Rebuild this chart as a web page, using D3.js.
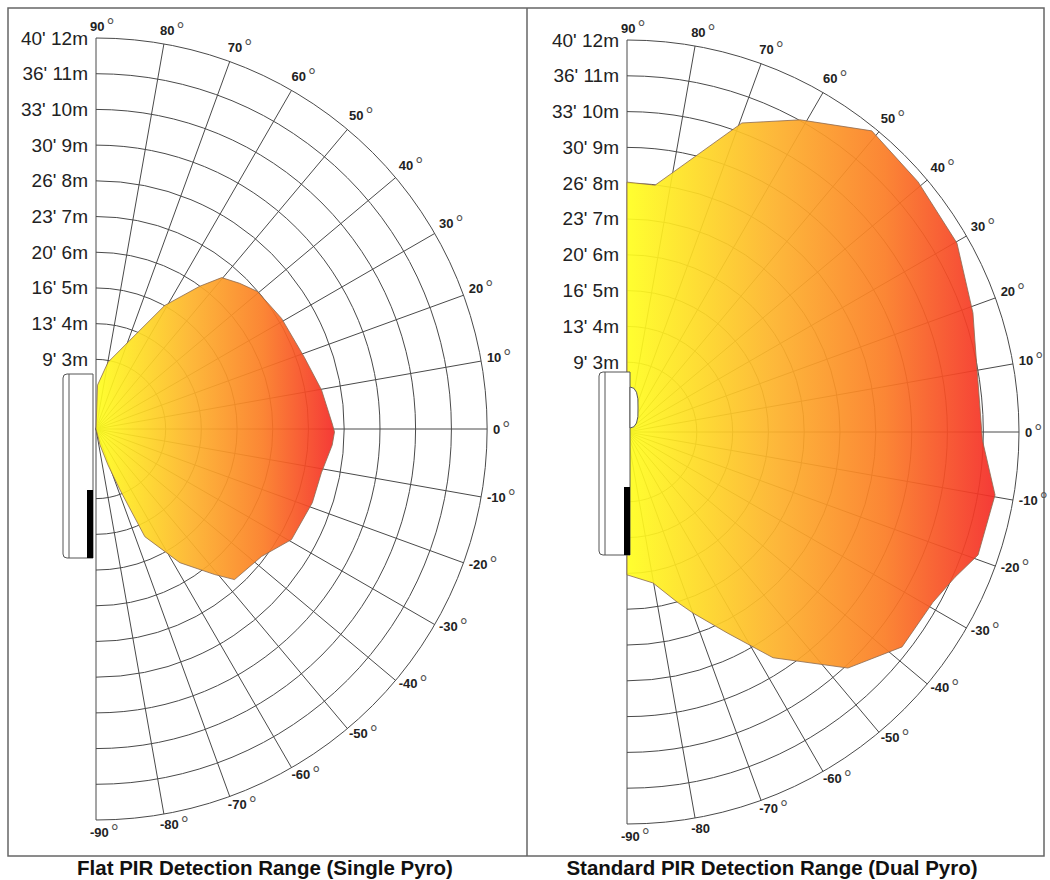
<!DOCTYPE html>
<html>
<head>
<meta charset="utf-8">
<script src="https://cdn.jsdelivr.net/npm/d3@7"></script>
<style>
  body { margin: 0; background: #fff; }
  svg { font-family: "Liberation Sans", Arial, Helvetica, sans-serif; }
</style>
</head>
<body>
<div id="chart"></div>
<script>
// ring distances (m) and their feet labels
const rings = [3, 4, 5, 6, 7, 8, 9, 10, 11, 12];
const ringFeet = ["9'", "13'", "16'", "20'", "23'", "26'", "30'", "33'", "36'", "40'"];
const spokeAngles = d3.range(-90, 91, 10);

// Flat PIR (single pyro) outline: angle in degrees, range in metres
const flatAngle = [88, 79.8, 69.1, 60.9, 54.0, 50.3, 45.4, 40.4, 30.8, 19.0, 9.8, 1.2, -0.7, -3.9,
  -11.0, -18.8, -29.5, -37.6, -47.4, -50.8, -57.9, -65.6, -68.5, -71.6, -76];
const flatRange = [2.28, 2.95, 3.71, 5.01, 5.99, 6.56, 6.78, 6.99, 7.10, 7.22, 7.46, 7.67, 7.73, 7.68,
  7.48, 7.45, 7.34, 6.90, 6.78, 6.31, 5.47, 4.36, 2.88, 2.11, 1.51];

// Standard PIR (dual pyro) outline
const dualAngle = [90, 83.5, 69.6, 61.0, 50.9, 40.7, 29.8, 19.0, 14.8, -1.3, -9.7, -19.3, -23.9,
  -29.1, -38.0, -46.9, -57.1, -63.5, -70.0, -73.6, -80.2, -90];
const dualRange = [8.03, 7.99, 10.26, 11.02, 11.89, 11.77, 11.67, 11.27, 11.1, 10.98, 11.48, 11.44, 11.07,
  10.83, 10.8, 10.08, 8.56, 7.32, 6.43, 6.0, 5.33, 5.04];

const captions = ["Flat PIR Detection Range (Single Pyro)", "Standard PIR Detection Range (Dual Pyro)"];

const W = 1050, H = 880;
const svg = d3.select('#chart').append('svg')
  .attr('width', W)
  .attr('height', H);

const defs = svg.append('defs');

// frame around both panels
svg.append('rect')
  .attr('x', 8).attr('y', 8)
  .attr('width', 1036).attr('height', 848)
  .attr('fill', 'none')
  .attr('stroke', '#666')
  .attr('stroke-width', 1.5);
svg.append('line')
  .attr('x1', 527).attr('x2', 527)
  .attr('y1', 8).attr('y2', 856)
  .attr('stroke', '#666')
  .attr('stroke-width', 1.5);

const panels = [
  { id: 'flat', cx: 96, cy: 429, R: 391, angle: flatAngle, range: flatRange, caption: captions[0], capX: 265,
    noDeg: [], device: { x0: -33, x1: -3, y0: -55, y1: 129, bar: 61, lens: false } },
  { id: 'dual', cx: 627, cy: 432, R: 392, angle: dualAngle, range: dualRange, caption: captions[1], capX: 772,
    noDeg: [-80], device: { x0: -28, x1: 3, y0: -60, y1: 123, bar: 55, lens: true } }
];

panels.forEach(p => {
  // rings are evenly spaced, but the 3 m ring sits ~70px out, so 0 px ≈ 1.05 m
  const r = d3.scaleLinear().domain([1.05, 12]).range([0, p.R]);
  const rad = a => a * Math.PI / 180;
  const pt = (a, d) => [p.cx + d * Math.cos(rad(a)), p.cy - d * Math.sin(rad(a))];

  const g = svg.append('g');

  // grid: half-circle rings
  g.selectAll('path.ring')
    .data(rings)
    .enter()
    .append('path')
    .attr('class', 'ring')
    .attr('d', d => {
      const path = d3.path();
      path.moveTo(p.cx, p.cy - r(d));
      path.arc(p.cx, p.cy, r(d), -Math.PI / 2, Math.PI / 2, false);
      return path.toString();
    })
    .attr('fill', 'none')
    .attr('stroke', '#4a4a4a')
    .attr('stroke-width', 1);

  // grid: spokes
  g.selectAll('line.spoke')
    .data(spokeAngles)
    .enter()
    .append('line')
    .attr('class', 'spoke')
    .attr('x1', p.cx).attr('y1', p.cy)
    .attr('x2', d => pt(d, p.R)[0])
    .attr('y2', d => pt(d, p.R)[1])
    .attr('stroke', '#4a4a4a')
    .attr('stroke-width', 1);

  // gradient yellow -> orange -> red
  const grad = defs.append('linearGradient')
    .attr('id', 'grad-' + p.id)
    .attr('x1', 0).attr('x2', 1).attr('y1', 0).attr('y2', 0);
  [[0, '#ffff1e'], [0.4, '#fdb22a'], [0.7, '#fb7c24'], [1, '#f42a26']].forEach(s => {
    grad.append('stop').attr('offset', s[0]).attr('stop-color', s[1]);
  });

  // detection zone, starting at the sensor
  const pts = [{ a: 90, m: r.domain()[0] }].concat(p.angle.map((a, i) => ({ a: a, m: p.range[i] })));
  const radial = d3.lineRadial()
    .angle(d => rad(90 - d.a))
    .radius(d => r(d.m))
    .curve(d3.curveLinearClosed);

  g.append('path')
    .attr('transform', `translate(${p.cx},${p.cy})`)
    .attr('d', radial(pts))
    .attr('fill', `url(#grad-${p.id})`)
    .attr('fill-opacity', 0.92)
    .attr('stroke', '#8c6a50')
    .attr('stroke-width', 0.8);

  // distance labels on the left
  g.selectAll('text.dist')
    .data(rings)
    .enter()
    .append('text')
    .attr('class', 'dist')
    .attr('x', p.cx - 8)
    .attr('y', d => p.cy - r(d))
    .attr('text-anchor', 'end')
    .attr('dominant-baseline', 'central')
    .style('font-size', '19px')
    .style('fill', '#222')
    .text((d, i) => `${ringFeet[i]} ${d}m`);

  // angle labels
  const al = g.selectAll('text.ang')
    .data(spokeAngles)
    .enter()
    .append('text')
    .attr('class', 'ang')
    .attr('x', d => pt(d, p.R + 12)[0] - 6)
    .attr('y', d => pt(d, p.R + 12)[1] - 5 * Math.abs(Math.sin(rad(2 * d))))
    .attr('dominant-baseline', 'central')
    .style('fill', '#222');
  al.append('tspan')
    .style('font-size', '13px')
    .style('font-weight', 'bold')
    .text(d => d);
  al.filter(d => p.noDeg.indexOf(d) < 0)
    .append('tspan')
    .attr('dx', 2)
    .style('font-size', '20px')
    .style('fill', '#555')
    .text('°');

  // the sensor unit
  const dv = p.device;
  const dev = g.append('g').attr('transform', `translate(${p.cx},${p.cy})`);
  dev.append('path')
    .attr('d', `M${dv.x1},${dv.y0} H${dv.x0 + 4} Q${dv.x0},${dv.y0} ${dv.x0},${dv.y0 + 4}
      V${dv.y1 - 4} Q${dv.x0},${dv.y1} ${dv.x0 + 4},${dv.y1} H${dv.x1} Z`)
    .attr('fill', '#fff')
    .attr('stroke', '#555')
    .attr('stroke-width', 1);
  dev.append('line')
    .attr('x1', dv.x0 + 6).attr('x2', dv.x0 + 6)
    .attr('y1', dv.y0).attr('y2', dv.y1)
    .attr('stroke', '#555');
  dev.append('rect')
    .attr('x', dv.x1 - 6).attr('y', dv.bar)
    .attr('width', 6).attr('height', dv.y1 - dv.bar)
    .attr('fill', '#000');
  if (dv.lens) {
    dev.append('path')
      .attr('d', `M${dv.x1},-45 Q${dv.x1 + 9},-45 ${dv.x1 + 8},-24 Q${dv.x1 + 9},-4 ${dv.x1},-4 Z`)
      .attr('fill', '#fff')
      .attr('stroke', '#555');
  }

  // caption
  svg.append('text')
    .attr('x', p.capX)
    .attr('y', 875)
    .attr('text-anchor', 'middle')
    .style('font-size', '20.5px')
    .style('font-weight', 'bold')
    .style('fill', '#111')
    .text(p.caption);
});
</script>
</body>
</html>
